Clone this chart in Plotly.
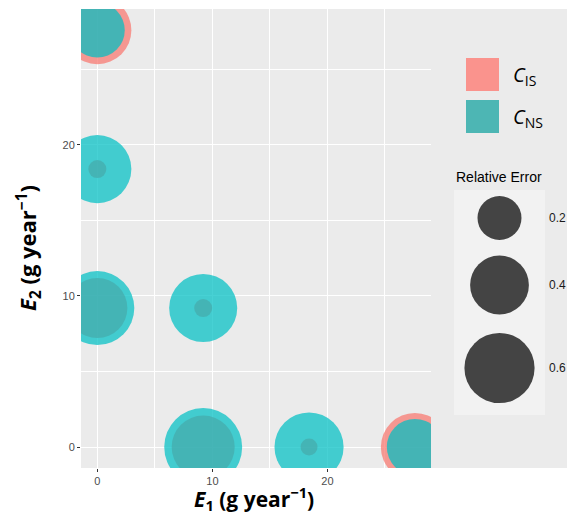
import numpy as np
import plotly.graph_objects as go

# ---- data ----
e1 = [0, 0, 0, 9.2, 9.2, 18.4, 27.6]
e2 = [27.6, 18.4, 9.2, 9.2, 0, 0, 0]
err_is = [0.56, 0.015, 0.42, 0.015, 0.47, 0.012, 0.56]
err_ns = [0.34, 0.56, 0.675, 0.56, 0.76, 0.58, 0.36]
size_breaks = [0.2, 0.4, 0.6]
x_ticks = [0, 10, 20]
y_ticks = [0, 10, 20]
series_names = ["<i>C</i><sub>IS</sub>", "<i>C</i><sub>NS</sub>"]

# page body has an 8px margin; work in screen pixels and convert
OFF = 8
W, H = 575 - 2 * OFF, 522 - 2 * OFF
panel_left, panel_right, panel_top, panel_bottom = 81, 431, 9, 468  # screen px
ML = panel_left - OFF
MT = panel_top - OFF
MR = 0
MB = H - (panel_bottom - OFF)
dom_x = (panel_right - panel_left) / (W - ML - MR)
screen_right = OFF + W


def size_px(v):
    return 8.2 + 80 * np.sqrt(np.asarray(v, dtype=float))


fig = go.Figure()
fig.add_trace(go.Scatter(x=e1, y=e2, mode="markers", name="CIS",
                         marker=dict(size=size_px(err_is), sizemode="diameter",
                                     color="rgb(248,118,109)", opacity=0.72,
                                     line=dict(width=0)),
                         showlegend=False, xaxis="x", yaxis="y"))
fig.add_trace(go.Scatter(x=e1, y=e2, mode="markers", name="CNS",
                         marker=dict(size=size_px(err_ns), sizemode="diameter",
                                     color="rgb(0,191,196)", opacity=0.72,
                                     line=dict(width=0)),
                         showlegend=False, xaxis="x", yaxis="y"))

# size legend (axes in screen-pixel units)
leg_cx = 499.5
leg_cy = [218, 285, 368]
fig.add_trace(go.Scatter(x=[leg_cx] * 3, y=leg_cy, mode="markers",
                         marker=dict(size=size_px(size_breaks), sizemode="diameter",
                                     color="rgb(0,0,0)", opacity=0.72,
                                     line=dict(width=0)),
                         showlegend=False, xaxis="x2", yaxis="y2", cliponaxis=False))

axis_common = dict(showgrid=True, gridcolor="white", gridwidth=1.1,
                   zeroline=False, ticks="outside", ticklen=3, tickwidth=1,
                   tickcolor="#333333", showline=False, automargin=False,
                   tickfont=dict(family="Liberation Sans", size=11, color="#4D4D4D"),
                   minor=dict(dtick=5, tick0=0, showgrid=True, gridcolor="white",
                              gridwidth=0.5, ticks=""))

fig.update_layout(
    width=W, height=H,
    margin=dict(l=ML, r=MR, t=MT, b=MB, pad=0),
    paper_bgcolor="white", plot_bgcolor="#EBEBEB",
    xaxis=dict(domain=[0, dom_x], range=[-1.42, 29.0], tickvals=x_ticks,
               ticktext=[str(t) for t in x_ticks], anchor="y", **axis_common),
    yaxis=dict(domain=[0, 1], range=[-1.39, 29.0], tickvals=y_ticks,
               ticktext=[str(t) for t in y_ticks], anchor="x", **axis_common),
    xaxis2=dict(domain=[dom_x, 1], range=[panel_right, screen_right], visible=False,
                anchor="y2", fixedrange=True),
    yaxis2=dict(domain=[0, 1], range=[panel_bottom, panel_top], visible=False,
                anchor="x2", fixedrange=True),
    showlegend=False,
)

shapes = [
    dict(type="rect", xref="x2", yref="y2", x0=454, x1=545, y0=190, y1=415,
         fillcolor="#F2F2F2", line=dict(width=0), layer="below"),
    dict(type="rect", xref="x2", yref="y2", x0=466, x1=499, y0=58, y1=91,
         fillcolor="#FA938D", line=dict(width=0)),
    dict(type="rect", xref="x2", yref="y2", x0=466, x1=499, y0=100, y1=133,
         fillcolor="#4DB6B4", line=dict(width=0)),
]
fig.update_layout(shapes=shapes)

ann = []
for lab, yy in zip(series_names, [75, 117]):
    ann.append(dict(xref="x2", yref="y2", x=511, y=yy, text=lab, showarrow=False,
                    xanchor="left", yanchor="middle",
                    font=dict(family="Open Sans", size=20, color="black")))
ann.append(dict(xref="x2", yref="y2", x=454, y=177, text="Relative Error", showarrow=False,
                xanchor="left", yanchor="middle",
                font=dict(family="Liberation Sans", size=14, color="black")))
for v, yy in zip(size_breaks, leg_cy):
    ann.append(dict(xref="x2", yref="y2", x=547, y=yy, text=f"{v:.1f}", showarrow=False,
                    xanchor="left", yanchor="middle",
                    font=dict(family="Liberation Sans", size=12, color="#1A1A1A")))

# axis titles
plot_h = panel_bottom - panel_top
ann.append(dict(xref="paper", yref="paper", x=(254 - panel_left) / (W - ML), y=0,
                yshift=-(498 - panel_bottom),
                text="<b><i>E</i><sub>1</sub> (g year<sup>\u22121</sup>)</b>",
                showarrow=False, xanchor="center", yanchor="middle",
                font=dict(family="Open Sans", size=21, color="black")))
ann.append(dict(xref="paper", yref="paper", x=0, xshift=-(panel_left - 28),
                y=1 - (248 - panel_top) / plot_h,
                text="<b><i>E</i><sub>2</sub> (g year<sup>\u22121</sup>)</b>",
                showarrow=False, xanchor="center", yanchor="middle", textangle=-90,
                font=dict(family="Open Sans", size=22, color="black")))
fig.update_layout(annotations=ann)

fig.write_html("out.html")
